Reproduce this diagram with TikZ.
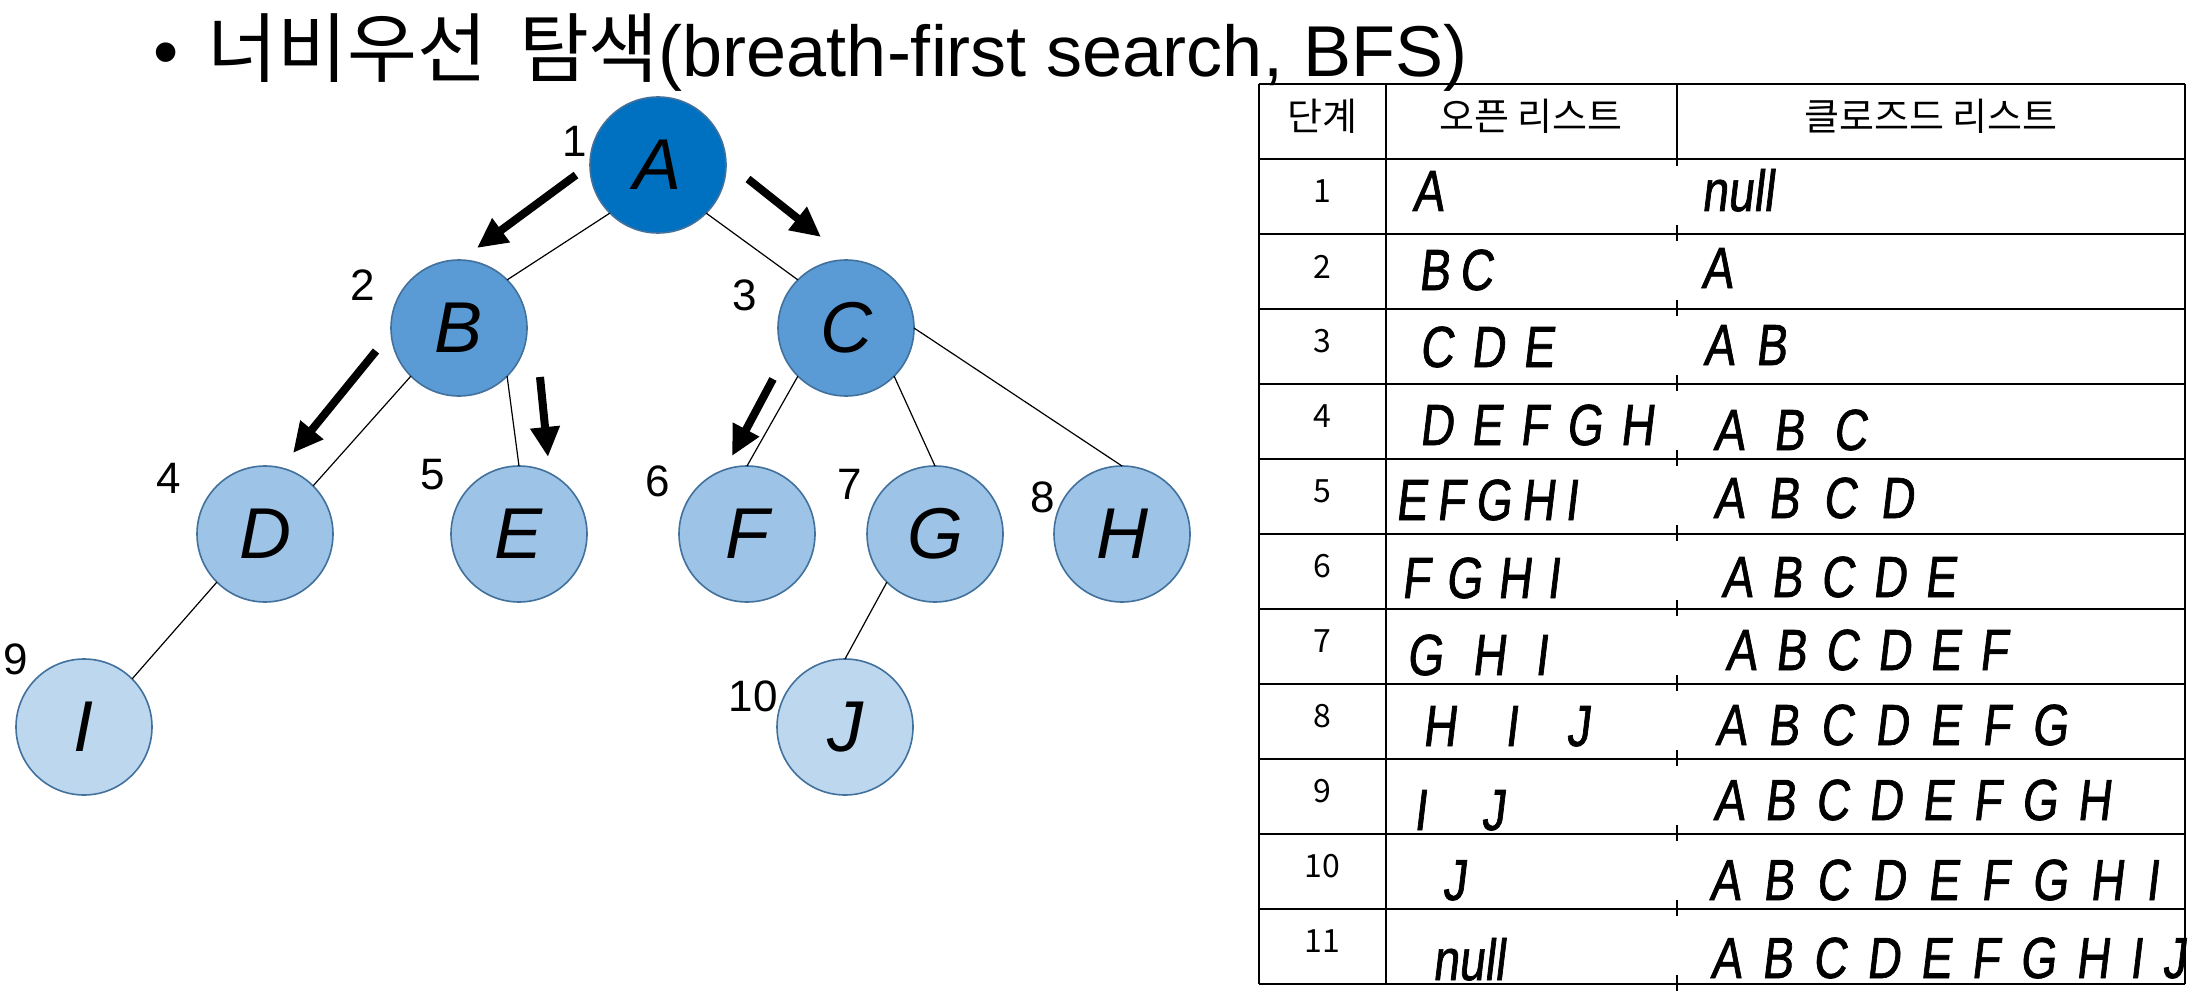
\documentclass[tikz,border=0pt]{standalone}
\usepackage{fontspec}
\setmainfont{Liberation Sans}
\newfontfamily\krfont{Noto Sans CJK KR}
\newfontfamily\handfont[FakeStretch=0.8,FakeSlant=0.12,FakeBold=1.2]{Liberation Sans}
\usetikzlibrary{arrows.meta}
\newcommand{\hwbox}[2]{\makebox[\dimexpr #1pt/2\relax][s]{#2}}
\definecolor{cA}{HTML}{0070C0}
\definecolor{cB}{HTML}{5B9BD5}
\definecolor{cD}{HTML}{9DC3E6}
\definecolor{cI}{HTML}{BDD7EE}
\definecolor{cborder}{HTML}{41719C}
\tikzset{
  tnode/.style={circle, minimum size=68pt, inner sep=0pt, outer sep=0pt, draw=cborder, line width=0.8pt, font=\fontsize{36}{40}\selectfont\itshape},
  num/.style={font=\fontsize{22}{26}\selectfont, inner sep=0pt},
  treeedge/.style={line width=0.6pt},
  bigarrow/.style={line width=4pt, -{Triangle[length=15pt,width=14pt]}},
  hand/.style={font=\handfont\fontsize{29}{32}\selectfont, inner sep=0pt, anchor=base west},
  hdr/.style={font=\krfont\fontsize{19}{22}\selectfont, inner sep=0pt},
  stepno/.style={font=\krfont\fontsize{16}{18}\selectfont, inner sep=0pt},
  hline/.style={line width=1.1pt},
  vline/.style={line width=0.7pt}
}
\begin{document}
\begin{tikzpicture}[x=0.5pt,y=-0.5pt]
\useasboundingbox (0,0) rectangle (2199,1000);
% title
\node[font=\fontsize{36}{40}\selectfont, inner sep=0pt, anchor=base] (bul) at (166,77) {•};
\node[font=\fontsize{36}{40}\selectfont, inner sep=0pt, anchor=base west] (title) at (207,77) {{\krfont\fontsize{38}{40}\selectfont 너비우선\hspace{16pt}탐색}(breath-first search, BFS)};
% tree nodes
\node[tnode, fill=cA] (A) at (658,165) {A};
\node[tnode, fill=cB] (B) at (459,328) {B};
\node[tnode, fill=cB] (C) at (846,328) {C};
\node[tnode, fill=cD] (D) at (265,534) {D};
\node[tnode, fill=cD] (E) at (519,534) {E};
\node[tnode, fill=cD] (F) at (747,534) {F};
\node[tnode, fill=cD] (G) at (935,534) {G};
\node[tnode, fill=cD] (H) at (1122,534) {H};
\node[tnode, fill=cI] (I) at (84,727) {I};
\node[tnode, fill=cI] (J) at (845,727) {J};
% tree edges
\draw[treeedge] (A.south west) -- (B.north east);
\draw[treeedge] (A.south east) -- (C.north west);
\draw[treeedge] (B.south west) -- (D.north east);
\draw[treeedge] (B.south east) -- (E.north);
\draw[treeedge] (C.south west) -- (F.north);
\draw[treeedge] (C.south east) -- (G.north);
\draw[treeedge] (C.east) -- (H.north);
\draw[treeedge] (D.south west) -- (I.north east);
\draw[treeedge] (G.south west) -- (J.north);
% numbers
\node[num] (n1) at (575,141) {1};
\node[num] (n2) at (363,285) {2};
\node[num] (n3) at (745,295) {3};
\node[num] (n4) at (169,478) {4};
\node[num] (n5) at (433,475) {5};
\node[num] (n6) at (658,481) {6};
\node[num] (n7) at (850,484) {7};
\node[num] (n8) at (1043,497) {8};
\node[num] (n9) at (16,659) {9};
\node[num] (n10) at (753,696) {10};
% traversal arrows
\coordinate (a1s) at (576,175); \coordinate (a1e) at (477,248);
\coordinate (a2s) at (748,179); \coordinate (a2e) at (821,237);
\coordinate (a3s) at (376,351); \coordinate (a3e) at (293,453);
\coordinate (a4s) at (540,377); \coordinate (a4e) at (548,457);
\coordinate (a5s) at (773,379); \coordinate (a5e) at (732,456);
\draw[bigarrow] (a1s) -- (a1e);
\draw[bigarrow] (a2s) -- (a2e);
\draw[bigarrow] (a3s) -- (a3e);
\draw[bigarrow] (a4s) -- (a4e);
\draw[bigarrow] (a5s) -- (a5e);
% table grid
\foreach \y in {84,159,...,984} \draw[hline] (1259,\y) -- (2185,\y);
\draw[vline] (1259,84) -- (1259,984);
\draw[vline] (1386,84) -- (1386,984);
\draw[vline] (2185,84) -- (2185,984);
\draw[vline] (1677,84) -- (1677,166);
\foreach \y in {234,309,...,984} \draw[vline] (1677,\y-9) -- (1677,\y+7);
% header
\node[hdr] (h1) at (1322,116) {단계};
\node[hdr] (h2) at (1531,116) {오픈 리스트};
\node[hdr] (h3) at (1931,116) {클로즈드 리스트};
% step numbers
\foreach \i in {1,...,11} \node[stepno] (s\i) at (1322,{159+75*\i-42.5}) {\i};
% open list
\node[hand] (o1) at (1412,211) {A};
\node[hand] (o2) at (1418,290) {\hwbox{74}{B C}};
\node[hand] (o3) at (1419,367) {\hwbox{134}{C D E}};
\node[hand] (o4) at (1419,445) {\hwbox{234}{D E F G H}};
\node[hand] (o5) at (1395,520) {\hwbox{182}{E F G H I}};
\node[hand] (o6) at (1401,598) {\hwbox{158}{F G H I}};
\node[hand] (o7) at (1406,675) {\hwbox{141}{G H I}};
\node[hand] (o8) at (1422,746) {\hwbox{167}{H I J}};
\node[hand] (o9) at (1413,830) {\hwbox{91}{I J}};
\node[hand] (o10) at (1442,900) {J};
\node[hand] (o11) at (1432,980) {null};
% closed list
\node[hand] (c1) at (1701,211) {null};
\node[hand] (c2) at (1701,288) {A};
\node[hand] (c3) at (1703,365) {\hwbox{83}{A B}};
\node[hand] (c4) at (1713,450) {\hwbox{153}{A B C}};
\node[hand] (c5) at (1713,518) {\hwbox{200}{A B C D}};
\node[hand] (c6) at (1721,597) {\hwbox{234}{A B C D E}};
\node[hand] (c7) at (1725,670) {\hwbox{282}{A B C D E F}};
\node[hand] (c8) at (1715,745) {\hwbox{352}{A B C D E F G}};
\node[hand] (c9) at (1713,820) {\hwbox{397}{A B C D E F G H}};
\node[hand] (c10) at (1709,900) {\hwbox{449}{A B C D E F G H I}};
\node[hand] (c11) at (1710,978) {\hwbox{475}{A B C D E F G H I J}};
\end{tikzpicture}
\end{document}
